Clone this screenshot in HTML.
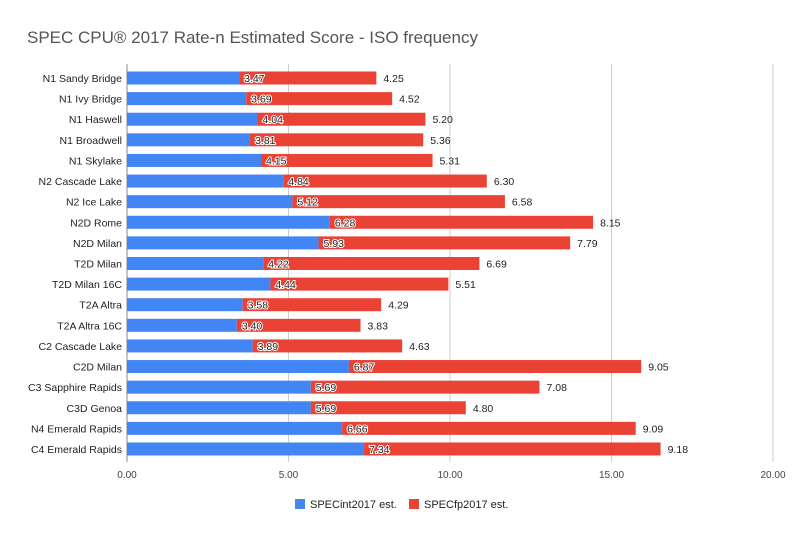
<!DOCTYPE html>
<html><head><meta charset="utf-8"><style>
body{margin:0;background:#fff;font-family:"Liberation Sans",Arial,sans-serif;}
svg text{font-family:"Liberation Sans",Arial,sans-serif;}
</style></head><body>
<svg id="chart" width="800" height="537">
<rect width="800" height="537" fill="#fff"/>
<text x="27" y="43" font-size="17" fill="#555">SPEC CPU® 2017 Rate-n Estimated Score - ISO frequency</text>
<g id="grid"></g><g id="bars"></g><g id="labels"></g>
<g>
<rect x="295" y="499" width="10" height="10" fill="#4285f4"/>
<text x="310" y="508" font-size="11" fill="#222">SPECint2017 est.</text>
<rect x="409" y="499" width="10" height="10" fill="#ea4335"/>
<text x="424" y="508" font-size="11" fill="#222">SPECfp2017 est.</text>
</g>
</svg>
<script>
const categories=["N1 Sandy Bridge","N1 Ivy Bridge","N1 Haswell","N1 Broadwell","N1 Skylake","N2 Cascade Lake","N2 Ice Lake","N2D Rome","N2D Milan","T2D Milan","T2D Milan 16C","T2A Altra","T2A Altra 16C","C2 Cascade Lake","C2D Milan","C3 Sapphire Rapids","C3D Genoa","N4 Emerald Rapids","C4 Emerald Rapids"];
const intValues=[3.47,3.69,4.04,3.81,4.15,4.84,5.12,6.28,5.93,4.22,4.44,3.58,3.40,3.89,6.87,5.69,5.69,6.66,7.34];
const fpValues=[4.25,4.52,5.20,5.36,5.31,6.30,6.58,8.15,7.79,6.69,5.51,4.29,3.83,4.63,9.05,7.08,4.80,9.09,9.18];
const xTicks=[0,5,10,15,20];
const NS="http://www.w3.org/2000/svg";
const x0=127,x1=773,xMax=20,y0=78,step=20.61,bh=13;
const xs=v=>x0+(x1-x0)*v/xMax;
const ys=i=>y0+i*step;
function mk(t,a,p){const e=document.createElementNS(NS,t);for(const k in a)e.setAttribute(k,a[k]);p.appendChild(e);return e;}
const grid=document.getElementById('grid'),bars=document.getElementById('bars'),labels=document.getElementById('labels');
xTicks.forEach(t=>{
 const l=mk('line',{x1:xs(t),x2:xs(t),y1:64,y2:462,stroke:t===0?'#888':'#ccc','stroke-width':1},grid);
 
 
 const tx=mk('text',{x:xs(t),y:478,'font-size':10,fill:'#444','text-anchor':'middle'},grid);
 tx.textContent=t.toFixed(2);
 
 
});
categories.forEach((c,i)=>{
 const y=ys(i);
 const cl=mk('text',{x:122,y:y+4,'font-size':10.5,fill:'#222','text-anchor':'end'},labels);
 cl.textContent=c;
 
 
 const b1=mk('rect',{x:xs(0),y:y-bh/2,width:xs(intValues[i])-xs(0),height:bh,fill:'#4285f4'},bars);
 
 
 const b2=mk('rect',{x:xs(intValues[i]),y:y-bh/2,width:xs(fpValues[i])-xs(0),height:bh,fill:'#ea4335'},bars);
 
 
 const l1=mk('text',{x:xs(intValues[i])+5,y:y+4,'font-size':10.5,fill:'#222',stroke:'#fff','stroke-width':2,'paint-order':'stroke'},labels);
 l1.textContent=intValues[i].toFixed(2);
 
 
 const l2=mk('text',{x:xs(intValues[i]+fpValues[i])+7,y:y+4,'font-size':10.5,fill:'#222'},labels);
 l2.textContent=fpValues[i].toFixed(2);
 
 
});
</script>
</body></html>
